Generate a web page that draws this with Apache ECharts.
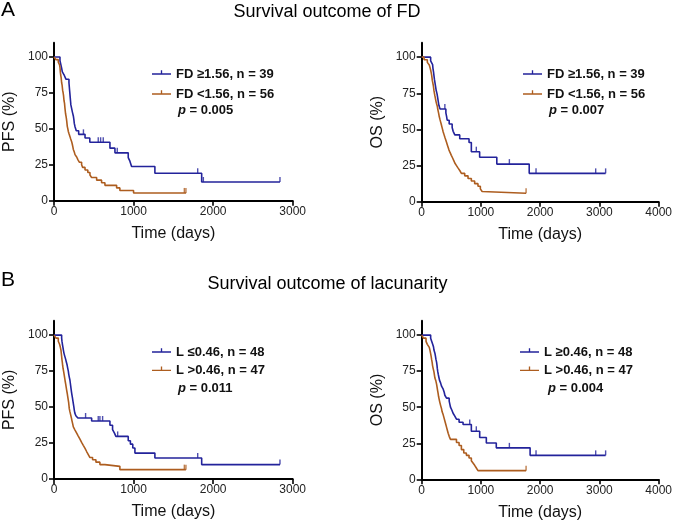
<!DOCTYPE html>
<html>
<head>
<meta charset="utf-8">
<script src="https://cdn.jsdelivr.net/npm/echarts@6/dist/echarts.min.js"></script>
<style>
html,body{margin:0;padding:0;background:#fff;}
#chart{width:675px;height:522px;}
</style>
</head>
<body>
<div id="chart"></div>
<script>
// ---------- tick labels ----------
const yTicks = [0, 25, 50, 75, 100];
const xTicksPFS = [0, 1000, 2000, 3000];
const xTicksOS = [0, 1000, 2000, 3000, 4000];

// ---------- labels ----------
const titleA = 'Survival outcome of FD';
const titleB = 'Survival outcome of lacunarity';
const nameFdHigh = 'FD \u22651.56, n = 39';
const nameFdLow = 'FD <1.56, n = 56';
const nameLLowPFS = 'L \u22640.46, n = 48';
const nameLHigh = 'L >0.46, n = 47';
const nameLLowOS = 'L \u22650.46, n = 48';
const pValues = ['0.005', '0.007', '0.011', '0.004'];

// ---------- A: PFS by FD ----------
const pfsFdHigh = [[0,100],[75,97.4],[96,92.3],[105,89.7],[130,87.2],[150,84.6],[188,82.1],[192,79.5],[196,76.9],[200,74.4],[204,71.8],[208,69.2],[212,66.7],[222,64.1],[232,61.5],[243,59.0],[250,56.4],[255,53.8],[265,51.3],[280,48.7],[310,46.2],[390,43.6],[450,40.7],[703,36.6],[766,33.3],[933,30.0],[954,27.5],[975,23.8],[1268,19.1],[1856,13.0],[2840,13.0]];
const pfsFdHighCens = [[370,46.2],[556,40.7],[586,40.7],[619,40.7],[795,33.3],[1806,19.1],[1877,13.0],[2840,13.0]];
const pfsFdLow = [[0,100],[25,98.2],[54,96.4],[70,94.6],[75,92.9],[80,89.3],[84,87.5],[90,85.7],[96,82.1],[102,80.4],[109,76.8],[115,75.0],[120,73.2],[126,69.6],[132,67.9],[138,64.3],[145,60.7],[151,58.9],[156,57.1],[160,55.4],[167,51.8],[174,50.0],[180,48.2],[190,46.4],[201,44.6],[210,42.9],[222,41.1],[230,39.3],[237,37.5],[243,35.7],[255,33.9],[264,32.1],[285,30.4],[300,28.6],[318,26.8],[347,25.0],[360,23.2],[390,21.4],[425,19.6],[452,17.9],[473,16.1],[536,14.3],[598,12.5],[640,10.7],[787,8.9],[828,7.1],[1000,5.4],[1660,5.4]];
const pfsFdLowCens = [[1638,5.4],[1658,5.4]];

// ---------- A: OS by FD ----------
const osFdHigh = [[0,100],[151,97.4],[184,94.9],[190,92.3],[200,89.7],[207,87.2],[215,84.6],[225,82.1],[235,79.5],[245,76.9],[260,74.4],[270,71.8],[280,69.2],[290,66.7],[310,64.1],[408,61.5],[420,59.0],[430,56.4],[464,53.8],[514,51.3],[531,48.7],[559,46.2],[642,43.6],[799,41.0],[838,34.6],[978,30.7],[1268,26.0],[1815,19.6],[3105,19.6]];
const osFdHighCens = [[391,64.1],[922,34.6],[1480,26.0],[1930,19.6],[2937,19.6],[3105,19.6]];
const osFdLow = [[0,100],[40,98.2],[95,96.4],[128,94.6],[140,92.9],[151,91.1],[160,89.3],[168,87.5],[174,85.7],[179,83.9],[188,82.1],[196,80.4],[202,78.6],[207,76.8],[215,75.0],[223,73.2],[232,71.4],[240,69.6],[250,67.9],[263,66.1],[270,64.3],[279,62.5],[288,60.7],[296,58.9],[307,57.1],[318,55.4],[330,53.6],[341,51.8],[352,50.0],[363,48.2],[377,46.4],[391,44.6],[405,42.9],[419,41.1],[433,39.3],[447,37.5],[461,35.7],[480,33.9],[500,32.1],[520,30.4],[540,28.6],[559,26.8],[587,25.0],[615,23.2],[645,21.4],[670,19.6],[726,17.9],[782,16.1],[838,14.3],[894,12.5],[950,10.7],[990,8.9],[1020,7.1],[1050,5.8],[1762,5.8]];
const osFdLowCens = [[1762,5.8]];

// ---------- B: PFS by lacunarity ----------
const pfsLLow = [[0,100],[96,97.9],[100,95.8],[105,93.8],[112,91.7],[118,89.6],[125,87.5],[135,85.4],[146,83.3],[155,81.3],[165,79.2],[172,77.1],[180,75.0],[185,72.9],[192,70.8],[200,68.8],[205,66.7],[210,64.6],[215,62.5],[220,60.4],[226,58.3],[232,56.3],[238,54.2],[244,52.1],[250,50.0],[255,47.9],[262,45.8],[275,44.0],[300,42.4],[473,40.3],[703,37.3],[736,34.3],[760,31.9],[778,29.6],[933,26.6],[960,24.2],[990,21.5],[1017,18.0],[1268,14.6],[1856,10.0],[2840,10.0]];
const pfsLLowCens = [[397,42.4],[556,40.3],[577,40.3],[611,40.3],[800,29.6],[1806,14.6],[2840,10.0]];
const pfsLHigh = [[0,100],[25,97.9],[54,95.7],[70,93.6],[80,91.5],[88,89.4],[92,87.2],[96,85.1],[100,83.0],[105,80.9],[109,78.7],[115,76.6],[122,74.5],[128,72.3],[134,70.2],[140,68.1],[147,66.0],[153,63.8],[159,61.7],[166,59.6],[172,57.4],[178,55.3],[184,53.2],[188,51.1],[192,48.9],[200,46.8],[209,44.7],[218,42.6],[226,40.4],[235,38.3],[243,36.2],[264,34.0],[285,31.9],[305,29.8],[326,27.7],[347,25.5],[368,23.4],[390,21.3],[410,19.1],[431,17.0],[452,14.9],[485,13.4],[527,11.7],[577,10.0],[640,8.8],[828,6.5],[1658,6.5]];
const pfsLHighCens = [[1638,6.5],[1658,6.5]];

// ---------- B: OS by lacunarity ----------
const osLLow = [[0,100],[151,97.9],[168,95.8],[184,93.8],[200,91.7],[207,89.6],[223,87.5],[232,85.4],[240,83.3],[251,81.3],[258,79.2],[263,77.1],[270,75.0],[279,72.9],[290,70.8],[300,68.8],[320,66.7],[335,64.6],[363,62.5],[380,60.4],[391,58.3],[419,56.3],[464,54.2],[475,52.1],[486,50.0],[510,47.9],[530,45.8],[559,43.8],[587,41.7],[631,39.6],[698,38.0],[838,33.3],[979,29.0],[1091,25.2],[1259,21.8],[1830,16.6],[3105,16.6]];
const osLLowCens = [[811,38.0],[922,33.3],[1480,21.8],[1930,16.6],[2937,16.6],[3105,16.6]];
const osLHigh = [[0,100],[30,97.9],[73,95.7],[95,93.6],[128,91.5],[140,89.4],[151,87.2],[160,85.1],[168,83.0],[177,80.9],[184,78.7],[195,76.6],[207,74.5],[215,72.3],[223,70.2],[240,68.1],[251,66.0],[260,63.8],[268,61.7],[277,59.6],[285,57.4],[296,55.3],[307,53.2],[320,51.1],[335,48.9],[345,46.8],[363,44.7],[377,42.6],[391,40.4],[405,38.3],[419,36.2],[433,34.0],[447,31.9],[464,29.8],[486,27.7],[587,25.5],[631,23.4],[670,20.6],[710,18.2],[754,16.6],[799,14.8],[838,12.9],[866,11.3],[894,9.7],[920,8.0],[950,6.0],[1762,6.0]];
const osLHighCens = [[1762,6.0]];

// ---------- styling ----------
const BLUE = '#23239b';
const BROWN = '#ad5d1f';
const FONT = '"Liberation Sans", Arial, Helvetica, sans-serif';

const grids = [
  {left: 54, top: 42.7, width: 238.7, height: 158},
  {left: 421.7, top: 42.7, width: 238.3, height: 159},
  {left: 54, top: 320.7, width: 238.7, height: 158.3},
  {left: 421.7, top: 320.7, width: 238.3, height: 158.6}
];

function xAxisCfg(idx, ticks) {
  return {
    type: 'value', gridIndex: idx, min: ticks[0], max: ticks[ticks.length - 1], interval: 1000,
    name: 'Time (days)', nameLocation: 'middle', nameGap: 25,
    nameTextStyle: {fontFamily: FONT, fontSize: 16, color: '#111'},
    axisLine: {show: true, onZero: false, lineStyle: {color: '#000', width: 2}},
    axisTick: {show: true, length: 5, lineStyle: {color: '#000', width: 1.6}, customValues: ticks},
    axisLabel: {fontFamily: FONT, fontSize: 12, color: '#222', margin: 5, customValues: ticks,
      formatter: function (v) { return String(v); }},
    splitLine: {show: false}
  };
}
function yAxisCfg(idx, name) {
  return {
    type: 'value', gridIndex: idx, min: 0, max: 110,
    name: name, nameLocation: 'middle', nameGap: 36,
    nameTextStyle: {fontFamily: FONT, fontSize: 16, color: '#111'},
    axisLine: {show: true, onZero: false, lineStyle: {color: '#000', width: 2}},
    axisTick: {show: true, length: 5, lineStyle: {color: '#000', width: 1.6}, customValues: yTicks},
    axisLabel: {fontFamily: FONT, fontSize: 12, color: '#222', margin: 6, customValues: yTicks,
      formatter: function (v) { return String(v); }},
    splitLine: {show: false}
  };
}

function km(idx, name, data, cens, color) {
  return [
    {
      type: 'line', name: name, xAxisIndex: idx, yAxisIndex: idx, data: data,
      step: 'end', showSymbol: false, symbol: 'none', silent: true,
      lineStyle: {color: color, width: 1.6}, itemStyle: {color: color}, z: 3
    },
    {
      type: 'scatter', name: name + ' censored', xAxisIndex: idx, yAxisIndex: idx, data: cens,
      symbol: 'rect', symbolSize: [1.4, 5], symbolOffset: [0, -2.5], silent: true,
      itemStyle: {color: color}, z: 4
    }
  ];
}

const legendIcon = 'path://M0,3.3h20v1.4h-20z M9.3,0h1.4v4h-1.4z M10,8l0.01,0l-0.01,0z';
function legendCfg(left, top, names, gap) {
  return {
    show: true, orient: 'vertical', left: left, top: top, padding: 0,
    itemWidth: 19, itemHeight: 8, itemGap: gap, icon: legendIcon,
    selectedMode: false, data: names,
    textStyle: {fontFamily: FONT, fontSize: 13, fontWeight: 'bold', color: '#111', lineHeight: 16}
  };
}

function textG(x, y, text, size, extra) {
  return {
    type: 'text', x: x, y: y, silent: true,
    style: Object.assign({text: text, fontFamily: FONT, fontSize: size, fill: '#000',
      verticalAlign: 'middle', align: 'left'}, extra || {})
  };
}
function pText(x, y, val) {
  return {
    type: 'text', x: x, y: y, silent: true,
    style: {
      text: '{i|p} = ' + val, fontFamily: FONT, fontSize: 13, fontWeight: 'bold', fill: '#111',
      verticalAlign: 'middle', align: 'left',
      rich: {i: {fontStyle: 'italic', fontWeight: 'bold', fontFamily: FONT, fontSize: 13, fill: '#111'}}
    }
  };
}

const chart = echarts.init(document.getElementById('chart'), null, {renderer: 'canvas'});
chart.setOption({
  animation: false,
  backgroundColor: '#fff',
  grid: grids,
  xAxis: [xAxisCfg(0, xTicksPFS), xAxisCfg(1, xTicksOS), xAxisCfg(2, xTicksPFS), xAxisCfg(3, xTicksOS)],
  yAxis: [yAxisCfg(0, 'PFS (%)'), yAxisCfg(1, 'OS (%)'), yAxisCfg(2, 'PFS (%)'), yAxisCfg(3, 'OS (%)')],
  legend: [
    legendCfg(152, 66, [nameFdHigh, nameFdLow], 4),
    legendCfg(523, 66, [nameFdHigh, nameFdLow], 4),
    legendCfg(152, 344, [nameLLowPFS, nameLHigh], 2.4),
    legendCfg(520, 344, [nameLLowOS, nameLHigh], 2.4)
  ],
  series: [].concat(
    km(0, nameFdHigh, pfsFdHigh, pfsFdHighCens, BLUE),
    km(0, nameFdLow, pfsFdLow, pfsFdLowCens, BROWN),
    km(1, nameFdHigh, osFdHigh, osFdHighCens, BLUE),
    km(1, nameFdLow, osFdLow, osFdLowCens, BROWN),
    km(2, nameLLowPFS, pfsLLow, pfsLLowCens, BLUE),
    km(2, nameLHigh, pfsLHigh, pfsLHighCens, BROWN),
    km(3, nameLLowOS, osLLow, osLLowCens, BLUE),
    km(3, nameLHigh, osLHigh, osLHighCens, BROWN)
  ),
  graphic: [
    textG(1, 10, 'A', 21),
    textG(327, 12, titleA, 18, {align: 'center'}),
    textG(1, 280.5, 'B', 21),
    textG(327.5, 284.5, titleB, 18, {align: 'center'}),
    pText(178, 110, pValues[0]),
    pText(549, 110, pValues[1]),
    pText(178, 388.5, pValues[2]),
    pText(548, 388.5, pValues[3])
  ]
});
</script>
</body>
</html>
